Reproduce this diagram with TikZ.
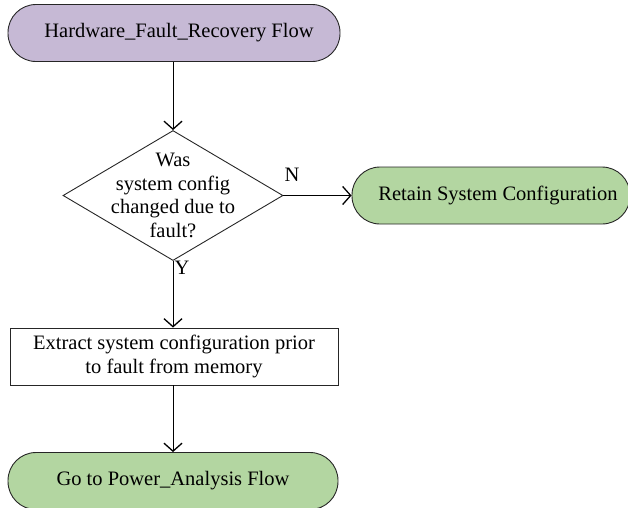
\documentclass[tikz,border=0pt]{standalone}
\usepackage{fontspec}
\setmainfont{Liberation Serif}
\usetikzlibrary{shapes.geometric,arrows.meta}
\definecolor{lav}{HTML}{C6B9D5}
\definecolor{grn}{HTML}{B3D6A1}
\begin{document}
\begin{tikzpicture}[x=1pt,y=-1pt,
  font=\fontsize{20.5}{23.5}\selectfont,
  term/.style={draw=black!85, line width=0.9pt, rectangle, rounded corners=28pt, minimum height=57pt, inner sep=0pt},
  procbox/.style={draw=black!85, line width=0.9pt, rectangle, fill=white, minimum height=57pt, inner sep=0pt, align=center},
  dec/.style={draw=black!85, line width=0.9pt, diamond, minimum width=220pt, minimum height=130pt, inner sep=0pt},
  conn/.style={draw=black, line width=0.9pt, -{Straight Barb[length=8pt,width=18pt,line width=1.3pt]}},
  lab/.style={inner sep=0pt}
]
\useasboundingbox (0,0) rectangle (628,507);
\node[term, fill=lav, minimum width=332pt] (start) at (174,33) {\hspace*{10pt}Hardware\_Fault\_Recovery Flow};
\node[dec] (d) at (173,195.5) {};
\node[align=center, inner sep=0pt] (dt) at (173,195.5) {Was\\system config\\changed due to\\fault?};
\node[term, fill=grn, minimum width=278pt] (retain) at (491,195.5) {\hspace*{14pt}Retain System Configuration};
\node[procbox, minimum width=328pt] (extract) at (174,356.5) {Extract system configuration prior\\to fault from memory};
\node[term, fill=grn, minimum width=330pt] (goto) at (173,481) {Go to Power\_Analysis Flow};
\draw[conn] (start.south -| d.north) -- (d.north);
\draw[conn] (d.east) -- (retain.west);
\draw[conn] (d.south) -- (extract.north -| d.south);
\draw[conn] (extract.south -| d.south) -- (goto.north -| d.south);
\node[lab] (n) at (292,175) {N};
\node[lab] (y) at (182,268) {Y};
\end{tikzpicture}
\end{document}
